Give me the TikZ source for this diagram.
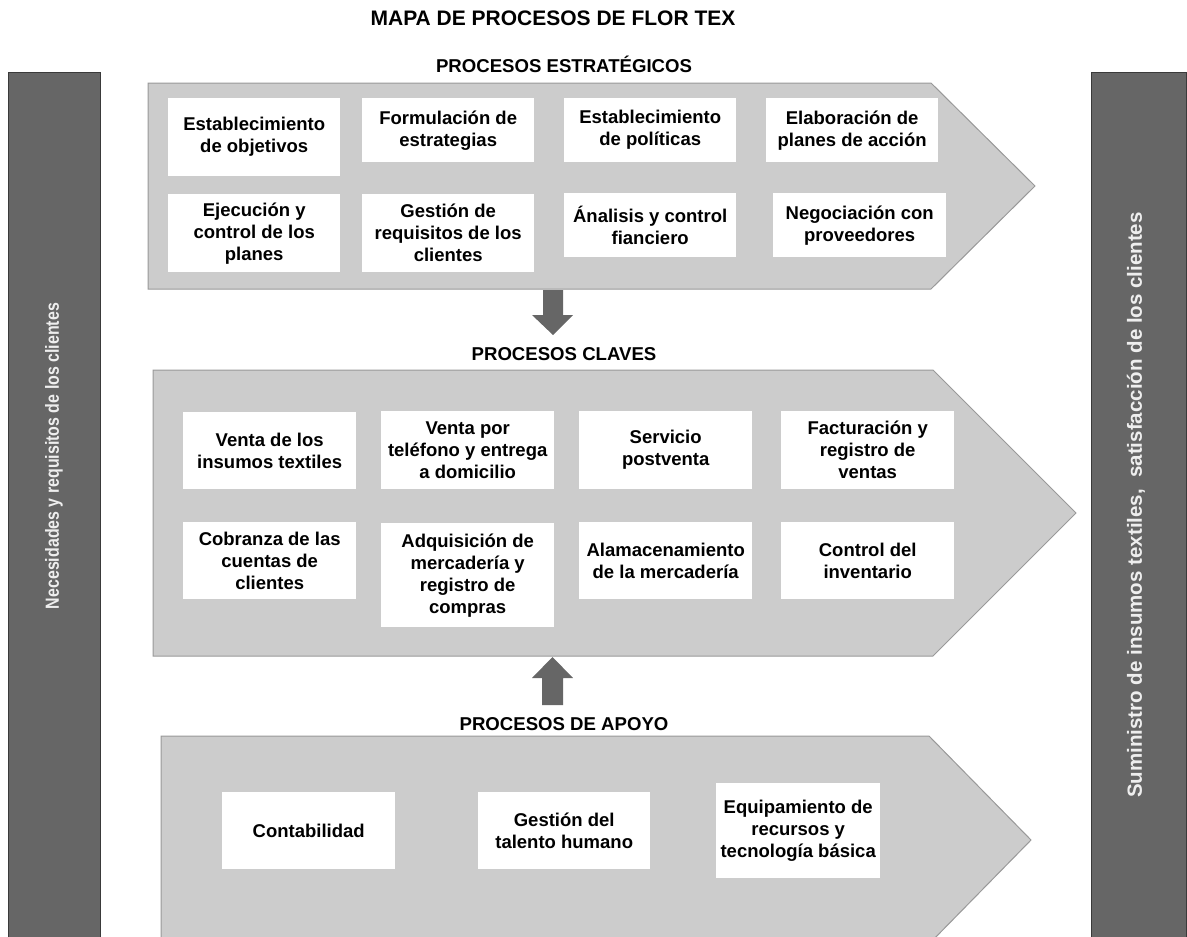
\documentclass[tikz,border=0pt]{standalone}
\usepackage{graphicx}
\usepackage{fontspec}
\setmainfont{Liberation Sans}
\definecolor{bandgray}{HTML}{CCCCCC}
\definecolor{bandedge}{HTML}{999999}
\definecolor{bargray}{HTML}{666666}
\definecolor{baredge}{HTML}{3A3A3A}
\definecolor{bartext}{HTML}{EEEEEE}
\begin{document}
\begin{tikzpicture}[x=1pt,y=-1pt,
  procbox/.style={fill=white, draw=none, inner sep=0pt, align=center,
    anchor=north west, text=black,
    font=\fontsize{18.5}{22}\selectfont\bfseries},
  band/.style={fill=bandgray, draw=bandedge, line width=1pt},
  sidebar/.style={fill=bargray, draw=baredge, line width=1pt},
  blockarrow/.style={fill=bargray, draw=none},
  header/.style={anchor=base, inner sep=0pt, font=\fontsize{18.6}{22}\selectfont\bfseries},
  sidetext/.style={rotate=90, inner sep=0pt, text=bartext, font=\bfseries}
]
\useasboundingbox (0,0) rectangle (1187,937);
\clip (0,0) rectangle (1187,937);

% side bars
\draw[sidebar] (8,72) rectangle (100,950);
\draw[sidebar] (1091,72) rectangle (1186,950);
\node[sidetext, font=\fontsize{19}{22}\selectfont\bfseries] (needs) at (54,456)
  {\scalebox{0.84}[1]{Necesidades y requisitos de los clientes}};
\node[sidetext, font=\fontsize{20.5}{24}\selectfont\bfseries] (supply) at (1136,505)
  {Suministro de insumos textiles,\ \ satisfacción de los clientes};

% titles
\node[header, font=\fontsize{21}{25}\selectfont\bfseries] (title) at (553,25) {MAPA DE PROCESOS DE FLOR TEX};
\node[header] (hstrat) at (564,72) {PROCESOS ESTRATÉGICOS};
\node[header] (hkey) at (564,360) {PROCESOS CLAVES};
\node[header] (hsupp) at (564,730) {PROCESOS DE APOYO};

% process bands
\draw[band] (148,83) -- (931,83) -- (1035,186) -- (931,289) -- (148,289) -- cycle;
\draw[band] (153,370) -- (933,370) -- (1076,513) -- (933,656) -- (153,656) -- cycle;
\draw[band] (161,736) -- (929,736) -- (1031,840) -- (929,944) -- (161,944) -- cycle;

% block arrows between bands
\fill[blockarrow] (543,290) -- (563,290) -- (563,315) -- (573,315) -- (553,335) -- (532,315) -- (543,315) -- cycle;
\fill[blockarrow] (542,705) -- (563,705) -- (563,678) -- (573,678) -- (552.5,657) -- (532,678) -- (542,678) -- cycle;

% strategic processes
\node[procbox, minimum width=172pt, minimum height=78pt] (s1) at (168,98) {Establecimiento\\de objetivos};
\node[procbox, minimum width=172pt, minimum height=64pt] (s2) at (362,98) {Formulación de\\estrategias};
\node[procbox, minimum width=172pt, minimum height=64pt] (s3) at (564,98) {Establecimiento\\de políticas};
\node[procbox, minimum width=172pt, minimum height=64pt] (s4) at (766,98) {Elaboración de\\planes de acción};
\node[procbox, minimum width=172pt, minimum height=78pt] (s5) at (168,194) {Ejecución y\\control de los\\planes};
\node[procbox, minimum width=172pt, minimum height=78pt] (s6) at (362,194) {Gestión de\\requisitos de los\\clientes};
\node[procbox, minimum width=172pt, minimum height=64pt] (s7) at (564,193) {Ánalisis y control\\fianciero};
\node[procbox, minimum width=173pt, minimum height=64pt] (s8) at (773,193) {Negociación con\\proveedores};

% key processes
\node[procbox, minimum width=173pt, minimum height=77pt] (k1) at (183,412) {Venta de los\\insumos textiles};
\node[procbox, minimum width=173pt, minimum height=78pt] (k2) at (381,411) {Venta por\\teléfono y entrega\\a domicilio};
\node[procbox, minimum width=173pt, minimum height=78pt] (k3) at (579,411) {Servicio\\postventa};
\node[procbox, minimum width=173pt, minimum height=78pt] (k4) at (781,411) {Facturación y\\registro de\\ventas};
\node[procbox, minimum width=173pt, minimum height=77pt] (k5) at (183,522) {Cobranza de las\\cuentas de\\clientes};
\node[procbox, minimum width=173pt, minimum height=104pt] (k6) at (381,523) {Adquisición de\\mercadería y\\registro de\\compras};
\node[procbox, minimum width=173pt, minimum height=77pt] (k7) at (579,522) {Alamacenamiento\\de la mercadería};
\node[procbox, minimum width=173pt, minimum height=77pt] (k8) at (781,522) {Control del\\inventario};

% support processes
\node[procbox, minimum width=173pt, minimum height=77pt] (a1) at (222,792) {Contabilidad};
\node[procbox, minimum width=172pt, minimum height=77pt] (a2) at (478,792) {Gestión del\\talento humano};
\node[procbox, minimum width=164pt, minimum height=95pt] (a3) at (716,783) {Equipamiento de\\recursos y\\tecnología básica};
\end{tikzpicture}
\end{document}
